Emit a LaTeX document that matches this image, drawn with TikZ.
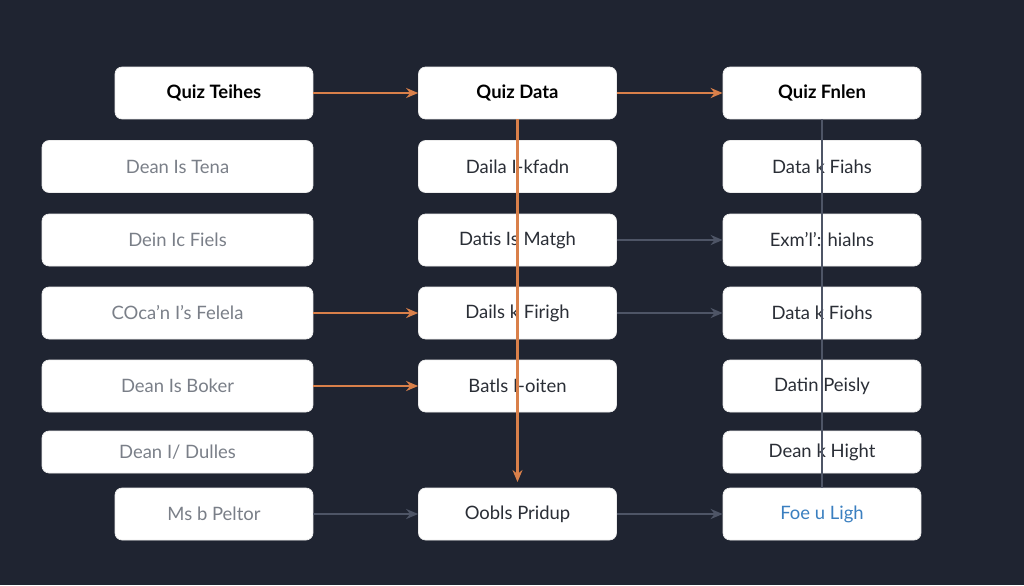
\documentclass[tikz,border=0pt]{standalone}
\usepackage{fontspec}
\setmainfont{Lato}
\usetikzlibrary{arrows.meta}
\definecolor{bgdark}{HTML}{1F2431}
\definecolor{linkorange}{HTML}{D9804A}
\definecolor{linkgray}{HTML}{4E5566}
\definecolor{txtgray}{HTML}{7A7F88}
\definecolor{txtdark}{HTML}{2A2E36}
\definecolor{txtblue}{HTML}{3A7FC0}
\begin{document}
\begin{tikzpicture}[x=0.02cm, y=-0.02cm,
    font=\fontsize{10.5}{12}\selectfont,
    >={Stealth[length=2.4mm, width=2mm]},
    % Styles
    card/.style={draw=white!85!gray, fill=white, rounded corners=4pt, minimum height=1.04cm, text=txtdark, inner sep=0pt},
    wide/.style={card, minimum width=5.42cm},
    narrow/.style={card, minimum width=3.96cm},
    head/.style={font=\fontsize{10.5}{12}\selectfont\bfseries, text=black},
    faint/.style={text=txtgray},
    hot/.style={->, line width=1.2pt, linkorange},
    cold/.style={->, line width=1.2pt, linkgray}
]
    \fill[bgdark] (0,0) rectangle (1024,585);

    % --- LEFT COLUMN ---
    \node[narrow, head] (l0) at (214,93) {Quiz Teihes};
    \node[wide, faint] (l1) at (177.5,166.5) {Dean Is Tena};
    \node[wide, faint] (l2) at (177.5,240) {Dein Ic Fiels};
    \node[wide, faint] (l3) at (177.5,313) {COca'n I's Felela};
    \node[wide, faint] (l4) at (177.5,386) {Dean Is Boker};
    \node[wide, faint, minimum height=0.84cm] (l5) at (177.5,452) {Dean I/ Dulles};
    \node[narrow, faint] (l6) at (214,514) {Ms b Peltor};

    % --- MIDDLE COLUMN ---
    \node[narrow, head] (m0) at (517.5,93) {Quiz Data};
    \node[narrow] (m1) at (517.5,166.5) {Daila I-kfadn};
    \node[narrow] (m2) at (517.5,240) {Datis Is Matgh};
    \node[narrow] (m3) at (517.5,313) {Dails k Firigh};
    \node[narrow] (m4) at (517.5,386) {Batls I-oiten};
    \node[narrow] (m6) at (517.5,514) {Oobls Pridup};

    % --- RIGHT COLUMN ---
    \node[narrow, head] (r0) at (822,93) {Quiz Fnlen};
    \node[narrow] (r1) at (822,166.5) {Data k Fiahs};
    \node[narrow] (r2) at (822,240) {Exm'l': hialns};
    \node[narrow] (r3) at (822,313) {Data k Fiohs};
    \node[narrow] (r4) at (822,386) {Datin Peisly};
    \node[narrow, minimum height=0.84cm] (r5) at (822,452) {Dean k Hight};
    \node[narrow, text=txtblue] (r6) at (822,514) {Foe u Ligh};

    % --- CONNECTIONS ---
    \begin{scope}[on background layer/.style={}]
    \draw[line width=1.2pt, linkgray] (r0.south) -- (r6.north);
    \draw[hot] (m0.south) -- (517.5,482);
    \end{scope}
    % redraw middle and right cards over the vertical lines
    \foreach \n in {m1,m2,m3,m4,r1,r2,r3,r4,r5}
        \path (\n) node[narrow, draw=none, fill=none] {};
    \draw[hot] (l0) -- (m0);
    \draw[hot] (m0) -- (r0);
    \draw[hot] (l3) -- (m3);
    \draw[hot] (l4) -- (m4);
    \draw[cold] (m2) -- (r2);
    \draw[cold] (m3) -- (r3);
    \draw[cold] (l6) -- (m6);
    \draw[cold] (m6) -- (r6);
\end{tikzpicture}
\end{document}
